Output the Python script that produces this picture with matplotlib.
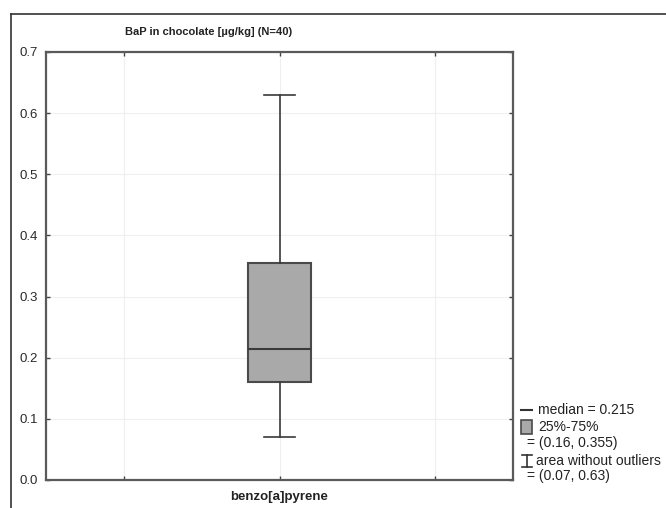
import matplotlib
matplotlib.use("Agg")
import matplotlib.pyplot as plt
from matplotlib.lines import Line2D
from matplotlib.patches import Rectangle

plt.rcParams['font.family'] = ['Liberation Sans', 'DejaVu Sans']

# ---- data ----
categories = ["benzo[a]pyrene"]
medians = [0.215]
q1s = [0.16]
q3s = [0.355]
whis_lo = [0.07]
whis_hi = [0.63]
n_samples = 40
yticks = [0.0, 0.1, 0.2, 0.3, 0.4, 0.5, 0.6, 0.7]

W, H = 666, 508
fig = plt.figure(figsize=(W / 100, H / 100), dpi=100)

def fx(px):
    return px / W

def fy(py):
    return 1 - py / H

ax = fig.add_axes([fx(46), fy(480), fx(513) - fx(46), fy(52) - fy(480)])

stats = []
for c, m, a, b, lo, hi in zip(categories, medians, q1s, q3s, whis_lo, whis_hi):
    stats.append(dict(label=c, med=m, q1=a, q3=b, whislo=lo, whishi=hi, fliers=[]))

ax.bxp(stats, positions=[2], widths=0.41, capwidths=0.2, showfliers=False,
       patch_artist=True,
       boxprops=dict(facecolor='#a9a9a9', edgecolor='#4a4a4a', linewidth=1.5),
       medianprops=dict(color='#3a3a3a', linewidth=1.5),
       whiskerprops=dict(color='#3a3a3a', linewidth=1.2),
       capprops=dict(color='#3a3a3a', linewidth=1.2))

ax.set_xlim(0.5, 3.5)
ax.set_ylim(0, 0.7)
ax.set_xticks([1, 2, 3])
ax.set_xticklabels([])
ax.set_yticks(yticks)
ax.set_yticklabels([f"{v:.1f}" for v in yticks], fontsize=9.5, color='#2a2a2a')
ax.tick_params(direction='in', length=3, width=1, color='#444444',
               top=True, right=True, pad=6)
ax.grid(True, color='#efefef', linewidth=0.8)
ax.set_axisbelow(True)
for s in ax.spines.values():
    s.set_color('#5a5a5a')
    s.set_linewidth(1.6)

fig.text(fx(279.5), fy(497), categories[0], ha='center', va='center',
         fontsize=9.5, fontweight='bold', color='#222222')
fig.text(fx(209), fy(32), f"BaP in chocolate [µg/kg] (N={n_samples})",
         ha='center', va='center', fontsize=8, fontweight='bold', color='#222222')

# outer frame (top and left)
fig.add_artist(Line2D([fx(11), fx(666)], [fy(14), fy(14)], color='#333333', linewidth=1.2))
fig.add_artist(Line2D([fx(11), fx(11)], [fy(14), fy(508)], color='#333333', linewidth=1.2))

# legend
lc = '#333333'
fs = 10
fig.add_artist(Line2D([fx(521), fx(532)], [fy(410), fy(410)], color=lc, linewidth=1.5))
fig.text(fx(538), fy(410), f"median = {medians[0]}", va='center', fontsize=fs, color='#222222')
fig.add_artist(Rectangle((fx(521), fy(434)), fx(532) - fx(521), fy(420) - fy(434),
                         facecolor='#a9a9a9', edgecolor='#4a4a4a', linewidth=1.2))
fig.text(fx(538), fy(427), "25%-75%", va='center', fontsize=fs, color='#222222')
fig.text(fx(527), fy(443), f"= ({q1s[0]}, {q3s[0]})", va='center', fontsize=fs, color='#222222')
fig.add_artist(Line2D([fx(527), fx(527)], [fy(455), fy(467)], color=lc, linewidth=1.2))
fig.add_artist(Line2D([fx(522), fx(532)], [fy(455), fy(455)], color=lc, linewidth=1.2))
fig.add_artist(Line2D([fx(522), fx(532)], [fy(467), fy(467)], color=lc, linewidth=1.2))
fig.text(fx(536), fy(461), "area without outliers", va='center', fontsize=fs, color='#222222')
fig.text(fx(527), fy(476), f"= ({whis_lo[0]}, {whis_hi[0]})", va='center', fontsize=fs, color='#222222')

fig.savefig("out.png", dpi=100)
